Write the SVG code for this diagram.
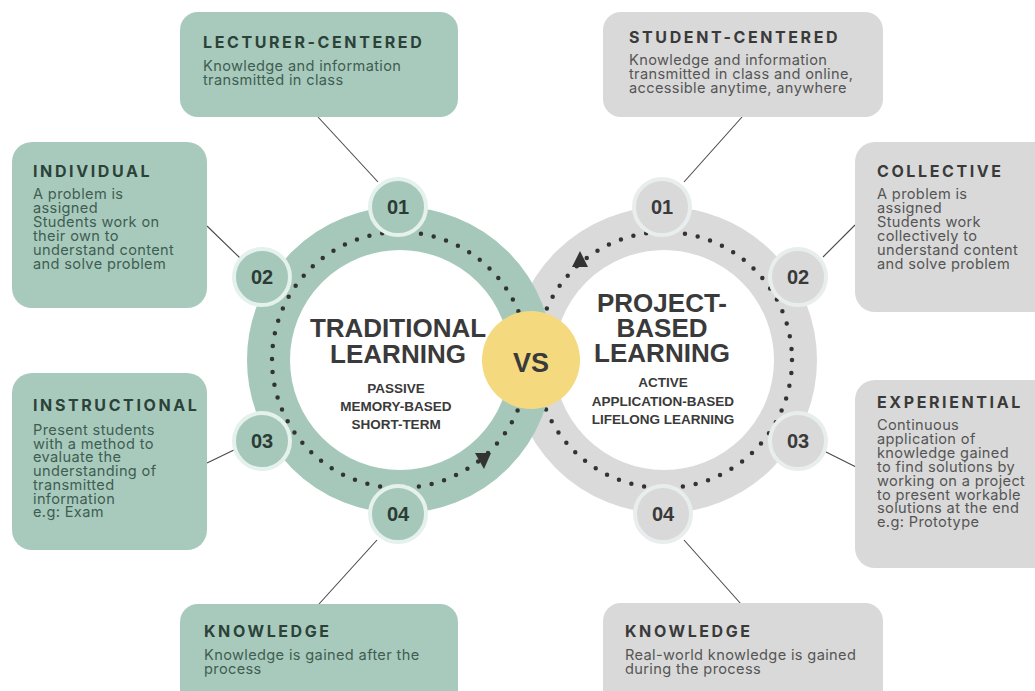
<svg xmlns="http://www.w3.org/2000/svg" width="1035" height="691" viewBox="0 0 1035 691">
<style>
.gbox{fill:#a8cabd}
.ybox{fill:#d9d9d9}
.t{font-family:Inter,"Liberation Sans",sans-serif;font-weight:700;font-size:16px;letter-spacing:2.6px}
.gt{fill:#2c4238}
.yt{fill:#3a3a3a}
.b{font-family:Inter,"Liberation Sans",sans-serif;font-size:14.6px;letter-spacing:0.35px}
.gb{fill:#3f5d51}
.yb{fill:#555555}
.conn line{stroke:#4a4a4a;stroke-width:1.1}
.dots{fill:none;stroke:#333;stroke-width:4.5;stroke-linecap:round;stroke-dasharray:0 13}
.num{font-family:"Liberation Sans",Arial,sans-serif;font-weight:700;font-size:20px;text-anchor:middle}
.ng{fill:#a5c8ba;stroke:#e4f1ec;stroke-width:4}
.ny{fill:#d9d9d9;stroke:#e8eeed;stroke-width:4}
.ct{font-family:"Liberation Sans",Arial,sans-serif;font-weight:700;fill:#3a3a3a;text-anchor:middle}
</style>
<rect width="1035" height="691" fill="#ffffff"/>

<g id="connectors" class="conn">
<line x1="318" y1="117" x2="378" y2="182"/>
<line x1="207" y1="226" x2="240" y2="258"/>
<line x1="207" y1="463" x2="236" y2="449"/>
<line x1="377" y1="540" x2="319" y2="604"/>
<line x1="742" y1="117" x2="684" y2="182"/>
<line x1="855" y1="225" x2="823" y2="257"/>
<line x1="824" y1="451" x2="856" y2="467"/>
<line x1="684" y1="540" x2="741" y2="604"/>
</g>

<g id="box-lecturer">
<rect class="gbox" x="180" y="12" width="278" height="105" rx="18"/>
<text class="t gt" x="203" y="48">LECTURER-CENTERED</text>
<text class="b gb" x="203" y="71">Knowledge and information</text>
<text class="b gb" x="203" y="85">transmitted in class</text>
</g>
<g id="box-individual">
<rect class="gbox" x="12" y="142" width="195" height="166" rx="20"/>
<text class="t gt" x="33" y="177">INDIVIDUAL</text>
<text class="b gb" x="33" y="199">A problem is</text>
<text class="b gb" x="33" y="213">assigned</text>
<text class="b gb" x="33" y="227">Students work on</text>
<text class="b gb" x="33" y="241">their own to</text>
<text class="b gb" x="33" y="255">understand content</text>
<text class="b gb" x="33" y="269">and solve problem</text>
</g>
<g id="box-instructional">
<rect class="gbox" x="12" y="373" width="195" height="177" rx="20"/>
<text class="t gt" x="33" y="411">INSTRUCTIONAL</text>
<text class="b gb" x="33" y="435">Present students</text>
<text class="b gb" x="33" y="448.7">with a method to</text>
<text class="b gb" x="33" y="462.4">evaluate the</text>
<text class="b gb" x="33" y="476.1">understanding of</text>
<text class="b gb" x="33" y="489.8">transmitted</text>
<text class="b gb" x="33" y="503.5">information</text>
<text class="b gb" x="33" y="517.2">e.g: Exam</text>
</g>
<g id="box-knowledge-left">
<rect class="gbox" x="180" y="604" width="278" height="110" rx="18"/>
<text class="t gt" x="204" y="637">KNOWLEDGE</text>
<text class="b gb" x="204" y="660">Knowledge is gained after the</text>
<text class="b gb" x="204" y="674">process</text>
</g>

<g id="box-student">
<rect class="ybox" x="603" y="12" width="280" height="105" rx="18"/>
<text class="t yt" x="629" y="43">STUDENT-CENTERED</text>
<text class="b yb" x="629" y="65">Knowledge and information</text>
<text class="b yb" x="629" y="79">transmitted in class and online,</text>
<text class="b yb" x="629" y="93">accessible anytime, anywhere</text>
</g>
<g id="box-collective">
<rect class="ybox" x="855" y="142" width="200" height="170" rx="20"/>
<text class="t yt" x="877" y="177">COLLECTIVE</text>
<text class="b yb" x="877" y="199">A problem is</text>
<text class="b yb" x="877" y="213">assigned</text>
<text class="b yb" x="877" y="227">Students work</text>
<text class="b yb" x="877" y="241">collectively to</text>
<text class="b yb" x="877" y="255">understand content</text>
<text class="b yb" x="877" y="269">and solve problem</text>
</g>
<g id="box-experiential">
<rect class="ybox" x="855" y="380" width="200" height="188" rx="20"/>
<text class="t yt" x="877" y="408">EXPERIENTIAL</text>
<text class="b yb" x="877" y="430">Continuous</text>
<text class="b yb" x="877" y="443.9">application of</text>
<text class="b yb" x="877" y="457.8">knowledge gained</text>
<text class="b yb" x="877" y="471.7">to find solutions by</text>
<text class="b yb" x="877" y="485.6">working on a project</text>
<text class="b yb" x="877" y="499.5">to present workable</text>
<text class="b yb" x="877" y="513.4">solutions at the end</text>
<text class="b yb" x="877" y="527.3">e.g: Prototype</text>
</g>
<g id="box-knowledge-right">
<rect class="ybox" x="603" y="603" width="280" height="110" rx="18"/>
<text class="t yt" x="625" y="637">KNOWLEDGE</text>
<text class="b yb" x="625" y="660">Real-world knowledge is gained</text>
<text class="b yb" x="625" y="674">during the process</text>
</g>

<g id="ring-project">
<circle cx="664" cy="360" r="131.5" fill="none" stroke="#dadada" stroke-width="43"/>
<circle class="dots" cx="664" cy="360" r="128"/>
<polygon points="588,267 572,267 580,251" fill="#333"/>
</g>
<g id="ring-traditional">
<circle cx="400" cy="360" r="131.5" fill="none" stroke="#a5c8ba" stroke-width="43"/>
<circle class="dots" cx="400" cy="360" r="128"/>
<polygon points="475,453 491,453 484,469" fill="#333"/>
</g>

<g id="n-l01"><circle class="ng" cx="398" cy="207" r="28"/><text class="num" x="398" y="214" fill="#2c3b35">01</text></g>
<g id="n-l02"><circle class="ng" cx="262" cy="277" r="28"/><text class="num" x="262" y="284" fill="#2c3b35">02</text></g>
<g id="n-l03"><circle class="ng" cx="262" cy="441" r="28"/><text class="num" x="262" y="448" fill="#2c3b35">03</text></g>
<g id="n-l04"><circle class="ng" cx="398" cy="514" r="28"/><text class="num" x="398" y="521" fill="#2c3b35">04</text></g>
<g id="n-r01"><circle class="ny" cx="662" cy="207" r="28"/><text class="num" x="662" y="214" fill="#3a3a3a">01</text></g>
<g id="n-r02"><circle class="ny" cx="798" cy="277" r="28"/><text class="num" x="798" y="284" fill="#3a3a3a">02</text></g>
<g id="n-r03"><circle class="ny" cx="798" cy="441" r="28"/><text class="num" x="798" y="448" fill="#3a3a3a">03</text></g>
<g id="n-r04"><circle class="ny" cx="663" cy="514" r="28"/><text class="num" x="663" y="521" fill="#3a3a3a">04</text></g>

<g id="center-traditional">
<text class="ct" x="398" y="337" font-size="26">TRADITIONAL</text>
<text class="ct" x="398" y="363" font-size="26">LEARNING</text>
<text class="ct" x="396" y="393" font-size="13.5">PASSIVE</text>
<text class="ct" x="396" y="411" font-size="13.5">MEMORY-BASED</text>
<text class="ct" x="396" y="429" font-size="13.5">SHORT-TERM</text>
</g>
<g id="center-project">
<text class="ct" x="662" y="312" font-size="26">PROJECT-</text>
<text class="ct" x="662" y="337" font-size="26">BASED</text>
<text class="ct" x="662" y="362" font-size="26">LEARNING</text>
<text class="ct" x="663" y="387" font-size="13.5">ACTIVE</text>
<text class="ct" x="663" y="406" font-size="13.5">APPLICATION-BASED</text>
<text class="ct" x="663" y="424" font-size="13.5">LIFELONG LEARNING</text>
</g>

<g id="vs">
<circle cx="531" cy="360" r="49" fill="#f5d97f"/>
<text class="ct" x="531" y="372" font-size="27" fill="#3a3628">VS</text>
</g>
</svg>
